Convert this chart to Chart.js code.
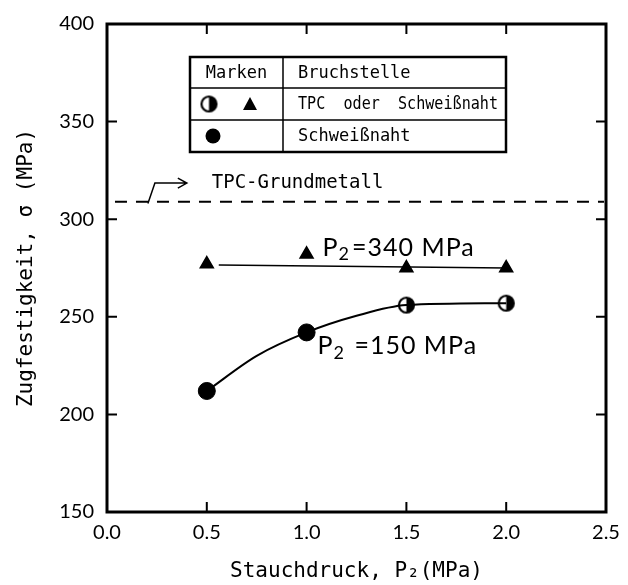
<!DOCTYPE html>
<html>
<head>
<meta charset="utf-8">
<script src="https://cdn.jsdelivr.net/npm/chart.js@4"></script>
<style>
  html, body { margin: 0; padding: 0; background: #fff; }
  #wrap { width: 628px; height: 585px; }
</style>
</head>
<body>
<div id="wrap"><canvas id="chart" width="628" height="585"></canvas></div>
<script>
// Werte
const stauchdruck = [0.5, 1.0, 1.5, 2.0];
const festigkeit150 = [212, 242, 256, 257];
const festigkeit340 = [277, 282, 275, 275];
// 'naht' = Schweißnaht, 'beide' = TPC oder Schweißnaht
const bruch150 = ['naht', 'naht', 'beide', 'beide'];
const kurve150X = [0.5, 0.75, 1.0, 1.25, 1.5, 2.0];
const kurve150Y = [212, 230, 242, 250.5, 256, 257];
const linie340X = [0.56, 2.0];
const linie340Y = [276.5, 275];
const grundmetall = 309;
const grundmetallX = [0.04, 2.49];

const monoFont = "'DejaVu Sans Mono', 'Liberation Mono', monospace";
const numFont = "Lato, 'Noto Sans', sans-serif";

// halb gefuellter Kreis als Punktstil
function halbKreis(r) {
  const c = document.createElement('canvas');
  const s = Math.ceil(r * 2 + 4);
  c.width = s; c.height = s;
  const g = c.getContext('2d');
  const m = s / 2;
  g.fillStyle = '#fff';
  g.beginPath(); g.arc(m, m, r, 0, Math.PI * 2); g.fill();
  g.fillStyle = '#000';
  g.beginPath(); g.arc(m, m, r, -Math.PI / 2, Math.PI / 2); g.closePath(); g.fill();
  g.lineWidth = 2.2;
  g.strokeStyle = '#000';
  g.beginPath(); g.arc(m, m, r, 0, Math.PI * 2); g.stroke();
  return c;
}
const halb = halbKreis(7.5);

function pText(ctx, x, y, rest, size) {
  ctx.font = size + 'px ' + numFont;
  ctx.fillText('P', x, y);
  let w = ctx.measureText('P').width;
  ctx.font = Math.round(size * 0.7) + 'px ' + numFont;
  ctx.fillText('2', x + w, y + size * 0.28);
  w += ctx.measureText('2').width + 2;
  ctx.font = size + 'px ' + numFont;
  ctx.fillText(rest, x + w, y);
}

const rahmen = {
  id: 'rahmen',
  afterDraw(chart) {
    const {ctx, chartArea: a, scales: {x, y}} = chart;
    ctx.save();
    ctx.strokeStyle = '#000';
    ctx.fillStyle = '#000';
    ctx.lineWidth = 2;
    x.ticks.forEach(t => {
      if (t.value <= x.min || t.value >= x.max) return;
      const px = x.getPixelForValue(t.value);
      ctx.beginPath();
      ctx.moveTo(px, a.bottom); ctx.lineTo(px, a.bottom - 10);
      ctx.moveTo(px, a.top); ctx.lineTo(px, a.top + 10);
      ctx.stroke();
    });
    y.ticks.forEach(t => {
      if (t.value <= y.min || t.value >= y.max) return;
      const py = y.getPixelForValue(t.value);
      ctx.beginPath();
      ctx.moveTo(a.left, py); ctx.lineTo(a.left + 10, py);
      ctx.moveTo(a.right, py); ctx.lineTo(a.right - 10, py);
      ctx.stroke();
    });
    ctx.lineWidth = 3;
    ctx.strokeRect(a.left, a.top, a.right - a.left, a.bottom - a.top);

    // Pfeil und Beschriftung Grundmetall
    ctx.lineWidth = 1.5;
    const ax = x.getPixelForValue(0.205), ay = y.getPixelForValue(grundmetall - 1);
    const kx = x.getPixelForValue(0.24), ky = y.getPixelForValue(318.5);
    const tx = x.getPixelForValue(0.40);
    ctx.beginPath();
    ctx.moveTo(ax, ay); ctx.lineTo(kx, ky); ctx.lineTo(tx, ky);
    ctx.moveTo(tx - 9, ky - 5); ctx.lineTo(tx, ky); ctx.lineTo(tx - 9, ky + 5);
    ctx.stroke();
    ctx.textBaseline = 'middle';
    ctx.textAlign = 'left';
    ctx.font = '19px ' + monoFont;
    ctx.fillText('TPC-Grundmetall', x.getPixelForValue(0.525), ky);

    // Kurvenbeschriftungen
    ctx.letterSpacing = '1px';
    pText(ctx, x.getPixelForValue(1.08), y.getPixelForValue(285.5), '=340 MPa', 25);
    pText(ctx, x.getPixelForValue(1.055), y.getPixelForValue(235), ' =150 MPa', 25);
    ctx.letterSpacing = '0px';

    // Tabelle der Marken
    const L = 190, R = 506, T = 57, B = 152, r1 = 88, r2 = 120, C = 283;
    ctx.lineWidth = 1.5;
    ctx.beginPath();
    ctx.moveTo(L, r1); ctx.lineTo(R, r1);
    ctx.moveTo(L, r2); ctx.lineTo(R, r2);
    ctx.moveTo(C, T); ctx.lineTo(C, B);
    ctx.stroke();
    ctx.lineWidth = 2.5;
    ctx.strokeRect(L, T, R - L, B - T);
    ctx.font = '17px ' + monoFont;
    ctx.textAlign = 'center';
    ctx.fillText('Marken', (L + C) / 2, (T + r1) / 2 + 1);
    ctx.textAlign = 'left';
    ctx.fillText('Bruchstelle', 298, (T + r1) / 2 + 1);
    ctx.fillText('TPC  oder  Schweißnaht', 298, (r1 + r2) / 2 + 1, R - 298 - 8);
    ctx.fillText('Schweißnaht', 298, (r2 + B) / 2 + 1);
    const m2 = (r1 + r2) / 2, m3 = (r2 + B) / 2;
    ctx.drawImage(halb, 209 - halb.width / 2, m2 - halb.height / 2);
    ctx.beginPath();
    ctx.moveTo(250, m2 - 7); ctx.lineTo(257, m2 + 6); ctx.lineTo(243, m2 + 6); ctx.closePath();
    ctx.fill();
    ctx.beginPath(); ctx.arc(213, m3, 7.5, 0, Math.PI * 2); ctx.fill();
    ctx.restore();
  }
};

new Chart(document.getElementById('chart'), {
  type: 'scatter',
  data: {
    datasets: [
      {
        label: 'TPC-Grundmetall',
        data: grundmetallX.map(v => ({x: v, y: grundmetall})),
        showLine: true,
        borderColor: '#000',
        borderWidth: 2,
        borderDash: [12, 9],
        pointRadius: 0
      },
      {
        label: 'P2 = 340 MPa Linie',
        data: linie340X.map((v, i) => ({x: v, y: linie340Y[i]})),
        showLine: true,
        borderColor: '#000',
        borderWidth: 1.5,
        pointRadius: 0
      },
      {
        label: 'P2 = 150 MPa Kurve',
        data: kurve150X.map((v, i) => ({x: v, y: kurve150Y[i]})),
        showLine: true,
        cubicInterpolationMode: 'monotone',
        borderColor: '#000',
        borderWidth: 2,
        pointRadius: 0
      },
      {
        label: 'P2 = 340 MPa',
        data: stauchdruck.map((v, i) => ({x: v, y: festigkeit340[i]})),
        showLine: false,
        pointStyle: 'triangle',
        pointRadius: 7.5,
        backgroundColor: '#000',
        borderColor: '#000',
        borderWidth: 1.5
      },
      {
        label: 'P2 = 150 MPa',
        data: stauchdruck.map((v, i) => ({x: v, y: festigkeit150[i]})),
        showLine: false,
        pointStyle: bruch150.map(b => b === 'naht' ? 'circle' : halb),
        pointRadius: 8.5,
        backgroundColor: '#000',
        borderColor: '#000',
        borderWidth: 1
      }
    ]
  },
  options: {
    responsive: false,
    animation: false,
    events: [],
    layout: { padding: { top: 24, right: 22, left: 0, bottom: 0 } },
    plugins: { legend: { display: false }, tooltip: { enabled: false } },
    scales: {
      x: {
        type: 'linear',
        min: 0, max: 2.5,
        grid: { display: false },
        border: { display: false },
        ticks: {
          stepSize: 0.5, autoSkip: false, maxRotation: 0, padding: 1,
          color: '#000', font: { family: numFont, size: 20 },
          callback: v => v.toFixed(1)
        },
        title: {
          display: true, text: 'Stauchdruck, P₂(MPa)', color: '#000',
          font: { family: monoFont, size: 21 }, padding: { top: 0, bottom: 1 }
        },
        afterFit: s => { s.height = 73; }
      },
      y: {
        type: 'linear',
        min: 150, max: 400,
        grid: { display: false },
        border: { display: false },
        ticks: {
          stepSize: 50, padding: 5,
          color: '#000', font: { family: numFont, size: 20 }
        },
        title: {
          display: true, text: 'Zugfestigkeit, σ (MPa)', color: '#000',
          font: { family: monoFont, size: 21 }, padding: { top: 14, bottom: 0 }
        },
        afterFit: s => { s.width = 107; }
      }
    }
  },
  plugins: [rahmen]
});
</script>
</body>
</html>
